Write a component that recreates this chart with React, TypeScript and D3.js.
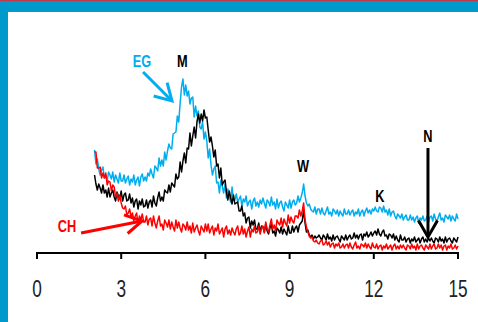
import { useEffect, useRef } from 'react';
import * as d3 from 'd3';

// x grid: 2.05 .. 15.00 step 0.05 (260 points), 20 values per row
const xStart = 2.05;
const xStep = 0.05;

const egValues = [
  103, 89, 94, 84, 78, 83, 86, 75, 78, 72, 81, 78, 74, 81, 71, 78, 74, 70, 80, 72,
  72, 78, 70, 74, 77, 68, 74, 71, 78, 68, 73, 76, 67, 76, 79, 72, 76, 72, 80, 77,
  84, 79, 75, 87, 85, 82, 95, 87, 93, 87, 101, 93, 102, 109, 105, 104, 119, 120, 121, 137,
  131, 150, 166, 174, 158, 168, 157, 162, 149, 155, 156, 136, 147, 137, 142, 126, 124, 131, 114, 121,
  112, 95, 104, 88, 78, 84, 87, 70, 71, 60, 73, 67, 60, 69, 55, 64, 57, 51, 66, 53,
  53, 59, 51, 54, 57, 47, 54, 51, 57, 47, 51, 53, 44, 52, 55, 47, 51, 46, 53, 49,
  55, 50, 45, 53, 51, 47, 56, 48, 51, 44, 54, 45, 50, 52, 46, 42, 51, 48, 45, 53,
  45, 51, 53, 48, 50, 57, 51, 55, 60, 69, 57, 50, 47, 49, 44, 42, 41, 46, 39, 44,
  44, 39, 45, 40, 38, 42, 46, 39, 41, 37, 44, 42, 39, 43, 37, 42, 39, 37, 44, 39,
  39, 43, 38, 41, 43, 37, 41, 39, 44, 37, 41, 43, 37, 42, 45, 40, 43, 39, 44, 42,
  46, 42, 41, 46, 45, 41, 47, 41, 43, 38, 44, 37, 41, 42, 37, 34, 39, 37, 35, 39,
  33, 36, 38, 33, 33, 38, 33, 36, 31, 35, 37, 30, 35, 33, 37, 32, 33, 37, 31, 36,
  37, 32, 39, 34, 32, 36, 40, 33, 35, 31, 38, 36, 34, 38, 32, 37, 34, 32, 39, 34,
];

const mValues = [
  78, 69, 63, 69, 65, 60, 68, 60, 63, 56, 65, 56, 60, 63, 56, 52, 61, 57, 54, 62,
  52, 58, 60, 52, 53, 59, 50, 55, 46, 52, 54, 44, 52, 48, 54, 46, 47, 53, 45, 51,
  53, 46, 57, 50, 47, 55, 61, 52, 56, 52, 63, 61, 60, 68, 61, 70, 68, 66, 79, 74,
  76, 91, 81, 92, 100, 90, 105, 104, 120, 107, 117, 126, 115, 131, 139, 130, 139, 132, 143, 135,
  136, 123, 111, 116, 107, 96, 103, 87, 89, 75, 85, 68, 71, 73, 61, 53, 62, 55, 49, 58,
  49, 50, 51, 42, 42, 47, 37, 40, 30, 35, 36, 25, 32, 28, 33, 24, 24, 30, 21, 27,
  26, 21, 29, 22, 19, 25, 29, 20, 22, 17, 25, 23, 20, 26, 19, 24, 21, 18, 27, 20,
  20, 27, 21, 25, 27, 21, 28, 30, 32, 43, 30, 21, 23, 18, 16, 18, 14, 17, 15, 16,
  18, 15, 13, 18, 16, 13, 19, 14, 16, 12, 18, 13, 16, 17, 14, 11, 17, 15, 13, 18,
  13, 16, 18, 14, 15, 20, 15, 18, 14, 18, 19, 13, 19, 17, 21, 16, 18, 21, 17, 20,
  22, 18, 24, 19, 17, 21, 23, 17, 18, 14, 19, 18, 15, 19, 13, 17, 13, 11, 18, 13,
  13, 16, 11, 14, 15, 10, 14, 12, 16, 11, 13, 15, 10, 14, 16, 11, 14, 11, 15, 12,
  15, 12, 10, 15, 14, 11, 16, 12, 14, 10, 16, 11, 14, 15, 12, 10, 15, 13, 11, 16,
];

const chValues = [
  101, 101, 85, 85, 86, 75, 80, 75, 80, 68, 72, 71, 62, 68, 66, 56, 60, 52, 58, 50,
  45, 44, 47, 38, 40, 44, 36, 40, 32, 37, 40, 29, 37, 33, 39, 31, 31, 37, 28, 34,
  35, 27, 37, 30, 25, 32, 37, 27, 29, 23, 33, 30, 26, 33, 24, 31, 26, 22, 33, 25,
  31, 25, 21, 29, 27, 23, 31, 23, 27, 20, 30, 21, 25, 28, 22, 18, 27, 24, 21, 29,
  22, 29, 20, 24, 27, 18, 25, 22, 29, 19, 22, 25, 16, 24, 27, 19, 23, 18, 25, 21,
  18, 24, 27, 18, 20, 27, 19, 24, 16, 22, 26, 16, 24, 21, 27, 20, 21, 27, 19, 25,
  27, 20, 31, 24, 21, 28, 34, 24, 28, 22, 33, 30, 28, 35, 26, 34, 30, 27, 38, 30,
  36, 32, 30, 37, 37, 35, 43, 37, 42, 50, 33, 26, 21, 17, 15, 16, 12, 11, 13, 10,
  9, 12, 13, 8, 9, 12, 8, 11, 6, 9, 10, 5, 9, 7, 10, 5, 6, 9, 5, 8,
  9, 5, 10, 6, 4, 8, 11, 5, 7, 4, 9, 8, 6, 10, 5, 9, 6, 4, 10, 6,
  5, 9, 4, 7, 8, 3, 7, 5, 9, 4, 6, 8, 3, 7, 9, 4, 7, 4, 8, 5,
  8, 5, 3, 8, 7, 4, 9, 5, 7, 3, 9, 4, 7, 8, 5, 3, 8, 6, 4, 9,
  4, 7, 9, 4, 5, 9, 5, 8, 3, 7, 8, 3, 7, 5, 9, 4, 5, 8, 4, 7,
];

const xTicks = [0, 3, 6, 9, 12, 15];

// annotation labels: [text, x, y(baseline), color]
const labels: [string, number, number, string][] = [
  ['EG', 3.74, 186, '#00AEEF'],
  ['M', 5.18, 186, '#000'],
  ['W', 9.48, 81, '#000'],
  ['K', 12.22, 51, '#000'],
  ['N', 13.93, 111, '#000'],
  ['CH', 1.07, 21, '#FF0000'],
];

// arrows: [x1, y1, x2(tip), y2(tip), color]
const arrows: [number, number, number, number, string][] = [
  [3.78, 181, 4.81, 152, '#00AEEF'],
  [13.93, 105, 13.93, 16, '#000'],
  [1.57, 20, 3.74, 32, '#FF0000'],
];

export default function App() {
  const ref = useRef<SVGSVGElement>(null);

  useEffect(() => {
    const W = 478, H = 322;
    const svg = d3.select(ref.current);
    svg.selectAll('*').remove();

    // frame
    svg.append('rect').attr('x', 0).attr('y', 0).attr('width', W).attr('height', H).attr('fill', '#fff');
    svg.append('rect').attr('x', 0).attr('y', 0).attr('width', W).attr('height', 12).attr('fill', '#0099CC');
    svg.append('rect').attr('x', 0).attr('y', 0).attr('width', 8).attr('height', H).attr('fill', '#0099CC');
    svg.append('rect').attr('x', 0).attr('y', 0).attr('width', W).attr('height', 1).attr('fill', '#C0394B');

    const x = d3.scaleLinear().domain([0, 15]).range([37, 458]);
    const y = d3.scaleLinear().domain([0, 200]).range([253, 53]);

    const line = d3.line<number>()
      .x((_, i) => x(xStart + i * xStep))
      .y(d => y(d));

    const series: [number[], string][] = [
      [egValues, '#00AEEF'],
      [mValues, '#000'],
      [chValues, '#FF0000'],
    ];
    series.forEach(([vals, color]) => {
      svg.append('path')
        .attr('d', line(vals))
        .attr('fill', 'none')
        .attr('stroke', color)
        .attr('stroke-width', 1.5)
        .attr('stroke-linejoin', 'round');
    });

    // x axis
    const axis = svg.append('g');
    axis.append('line')
      .attr('x1', x(0)).attr('x2', x(15))
      .attr('y1', y(0)).attr('y2', y(0))
      .attr('stroke', '#000').attr('stroke-width', 2);
    xTicks.forEach(t => {
      axis.append('line')
        .attr('x1', x(t)).attr('x2', x(t))
        .attr('y1', y(0) - 1).attr('y2', y(0) + 6)
        .attr('stroke', '#000').attr('stroke-width', 2);
      axis.append('text')
        .attr('transform', `translate(${x(t)},297) scale(0.75,1)`)
        .attr('text-anchor', 'middle')
        .attr('font-family', 'Liberation Sans, Arial, sans-serif')
        .attr('font-size', 23)
        .attr('fill', '#222')
        .text(String(t));
    });

    // labels
    labels.forEach(([txt, lx, ly, color]) => {
      svg.append('text')
        .attr('transform', `translate(${x(lx)},${y(ly)}) scale(0.8,1)`)
        .attr('text-anchor', 'middle')
        .attr('font-family', 'Liberation Sans, Arial, sans-serif')
        .attr('font-weight', 'bold')
        .attr('font-size', 16)
        .attr('fill', color)
        .text(txt);
    });

    // arrows with open heads
    arrows.forEach(([ax1, ay1, ax2, ay2, color]) => {
      const p1 = [x(ax1), y(ay1)], p2 = [x(ax2), y(ay2)];
      const dx = p2[0] - p1[0], dy = p2[1] - p1[1];
      const len = Math.hypot(dx, dy);
      const ux = -dx / len, uy = -dy / len;
      const hl = 19, a = Math.PI / 6;
      const h1 = [p2[0] + hl * (ux * Math.cos(a) - uy * Math.sin(a)), p2[1] + hl * (ux * Math.sin(a) + uy * Math.cos(a))];
      const h2 = [p2[0] + hl * (ux * Math.cos(-a) - uy * Math.sin(-a)), p2[1] + hl * (ux * Math.sin(-a) + uy * Math.cos(-a))];
      svg.append('line')
        .attr('x1', p1[0]).attr('y1', p1[1]).attr('x2', p2[0]).attr('y2', p2[1])
        .attr('stroke', color).attr('stroke-width', 3);
      svg.append('path')
        .attr('d', `M${h1[0]},${h1[1]}L${p2[0]},${p2[1]}L${h2[0]},${h2[1]}`)
        .attr('fill', 'none').attr('stroke', color).attr('stroke-width', 3)
        .attr('stroke-linejoin', 'miter');
    });
  }, []);

  return (
    <svg ref={ref} width={478} height={322}
      style={{ position: 'fixed', left: 0, top: 0, display: 'block' }} />
  );
}
